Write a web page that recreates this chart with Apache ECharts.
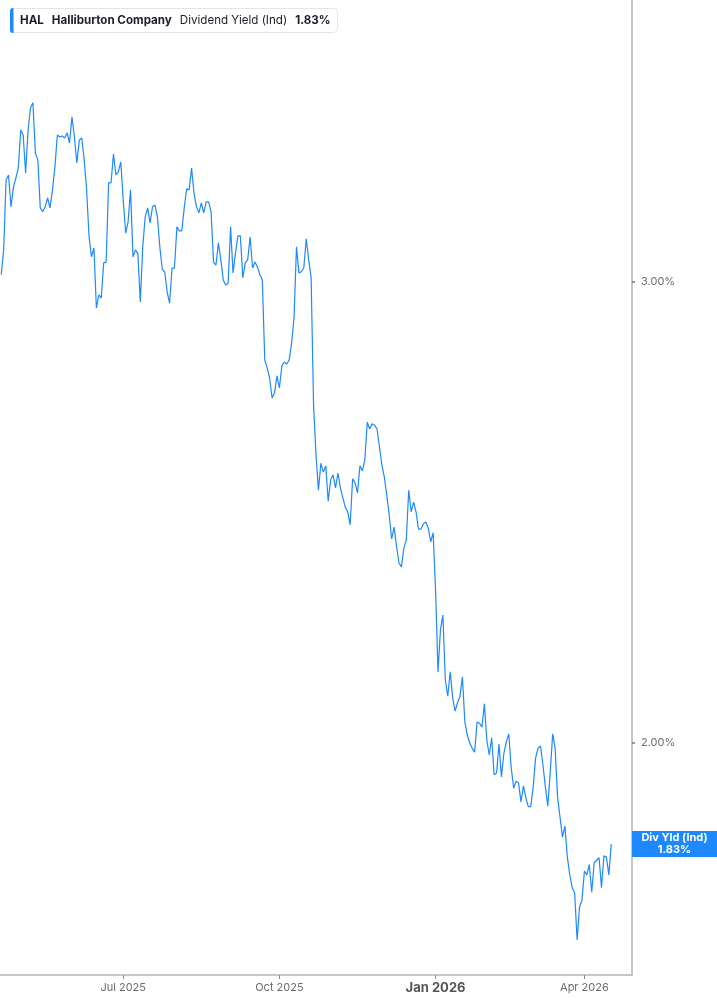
<!DOCTYPE html>
<html>
<head>
<meta charset="utf-8">
<script src="https://cdn.jsdelivr.net/npm/echarts@6/dist/echarts.min.js"></script>
<style>
  html, body { margin: 0; padding: 0; background: #fff; }
  #chart { width: 717px; height: 1005px; }
</style>
</head>
<body>
<div id="chart"></div>
<script>
// ---- Data ----
const ticker = 'HAL';
const companyName = 'Halliburton Company';
const metricName = 'Dividend Yield (Ind)';
const markerName = 'Div Yld (Ind)';

// Trading-day calendar (categories): weekdays between these dates, minus NYSE holidays
const firstDate = '2025-04-17';
const lastAxisDate = '2026-04-29';
const marketHolidays = ['2025-04-18','2025-05-26','2025-06-19','2025-07-04','2025-09-01',
  '2025-11-27','2025-12-25','2026-01-01','2026-01-19','2026-02-16','2026-04-03'];

// Dividend yield (%) per trading day, starting 2025-04-17
const yieldValues = [
  3.019, 3.086, 3.282, 3.296, 3.205, 3.261, 3.287, 3.316, 3.429, 3.414,
  3.302, 3.429, 3.496, 3.512, 3.360, 3.340, 3.202, 3.191, 3.205, 3.230,
  3.202, 3.253, 3.319, 3.414, 3.408, 3.411, 3.405, 3.420, 3.390, 3.469,
  3.408, 3.331, 3.399, 3.405, 3.340, 3.253, 3.121, 3.067, 3.091, 2.932,
  2.966, 2.958, 3.051, 3.053, 3.273, 3.273, 3.357, 3.296, 3.305, 3.334,
  3.224, 3.132, 3.163, 3.253, 3.067, 3.086, 3.075, 2.948, 3.094, 3.177,
  3.202, 3.160, 3.205, 3.210, 3.177, 3.094, 3.034, 3.027, 2.974, 2.945,
  3.037, 3.037, 3.149, 3.138, 3.138, 3.202, 3.256, 3.253, 3.316, 3.244,
  3.205, 3.188, 3.216, 3.188, 3.219, 3.219, 3.191, 3.053, 3.045, 3.105,
  3.059, 3.005, 2.992, 2.997, 3.149, 3.024, 3.077, 3.124, 3.124, 3.011,
  3.051, 3.059, 3.121, 3.037, 3.053, 3.040, 3.019, 3.005, 2.801, 2.781,
  2.757, 2.709, 2.721, 2.762, 2.733, 2.786, 2.796, 2.791, 2.801, 2.843,
  2.907, 3.094, 3.024, 3.027, 3.037, 3.116, 3.059, 3.011, 2.692, 2.577,
  2.498, 2.558, 2.538, 2.552, 2.474, 2.521, 2.532, 2.503, 2.536, 2.503,
  2.481, 2.461, 2.451, 2.423, 2.523, 2.514, 2.492, 2.552, 2.541, 2.565,
  2.652, 2.636, 2.648, 2.645, 2.636, 2.595, 2.554, 2.527, 2.487, 2.444,
  2.393, 2.418, 2.378, 2.343, 2.335, 2.374, 2.391, 2.498, 2.451, 2.472,
  2.451, 2.414, 2.414, 2.425, 2.429, 2.416, 2.387, 2.406, 2.288, 2.129,
  2.209, 2.238, 2.114, 2.084, 2.129, 2.081, 2.057, 2.072, 2.084, 2.120,
  2.037, 2.014, 2.000, 1.991, 1.984, 2.037, 2.035, 2.028, 2.070, 2.005,
  1.979, 2.009, 1.945, 1.948, 1.998, 1.941, 1.982, 2.002, 2.016, 1.957,
  1.922, 1.934, 1.931, 1.899, 1.926, 1.906, 1.891, 1.891, 1.924, 1.974,
  1.991, 1.995, 1.962, 1.924, 1.892, 1.950, 2.016, 1.991, 1.907, 1.874,
  1.841, 1.859, 1.809, 1.781, 1.761, 1.753, 1.682, 1.731, 1.742, 1.787,
  1.781, 1.797, 1.754, 1.800, 1.804, 1.808, 1.761, 1.811, 1.809, 1.781,
  1.830
];

// Y axis (log scale) range and tick labels
const yMin = 1.6308;
const yMax = 3.8444;
const yTickValues = [2, 3];

const monthNames = ['Jan','Feb','Mar','Apr','May','Jun','Jul','Aug','Sep','Oct','Nov','Dec'];

// ---- Build categories ----
function buildTradingDays(from, to, holidays) {
  const out = [];
  const hs = new Set(holidays);
  const d = new Date(from + 'T00:00:00Z');
  const end = new Date(to + 'T00:00:00Z');
  while (d <= end) {
    const wd = d.getUTCDay();
    const s = d.toISOString().slice(0, 10);
    if (wd !== 0 && wd !== 6 && !hs.has(s)) out.push(s);
    d.setUTCDate(d.getUTCDate() + 1);
  }
  return out;
}
const tradingDays = buildTradingDays(firstDate, lastAxisDate, marketHolidays);
const monthOf = s => parseInt(s.slice(5, 7), 10);
const isQuarterStart = idx => idx > 0 && monthOf(tradingDays[idx]) !== monthOf(tradingDays[idx - 1]) && (monthOf(tradingDays[idx]) - 1) % 3 === 0;

const lastValue = yieldValues[yieldValues.length - 1];
const lastText = lastValue.toFixed(2) + '%';

const FONT = 'Inter, "Noto Sans", sans-serif';
const BLUE = '#1e88ff';

const chart = echarts.init(document.getElementById('chart'), null, { renderer: 'canvas' });
chart.setOption({
  animation: false,
  backgroundColor: '#ffffff',
  textStyle: { fontFamily: FONT },
  grid: { left: 0, right: 85, top: 0, bottom: 30, containLabel: false },
  title: {
    left: 10, top: 8,
    padding: [6, 7, 6, 10],
    backgroundColor: '#ffffff',
    borderColor: '#e4e4e4', borderWidth: 1, borderRadius: 4,
    text: '{b|' + ticker + '}{g| }{b|' + companyName + '}{g| }{n|' + metricName + '}{g| }{b|' + lastText + '}',
    textStyle: {
      rich: {
        b: { fontFamily: FONT, fontSize: 11.6, fontWeight: 'bold', color: '#1b1d2a', lineHeight: 13 },
        n: { fontFamily: FONT, fontSize: 11.6, fontWeight: 'normal', color: '#1b1d2a', lineHeight: 13 },
        g: { width: 8, fontSize: 11.6, lineHeight: 13 }
      }
    }
  },
  graphic: [{
    type: 'rect', left: 10, top: 8, z: 100,
    shape: { width: 3.5, height: 25, r: [3, 0, 0, 3] },
    style: { fill: BLUE }
  }],
  xAxis: {
    type: 'category',
    data: tradingDays,
    boundaryGap: true,
    axisLine: { show: true, lineStyle: { color: '#b5b5b5', width: 1.5 } },
    axisTick: { show: true, interval: isQuarterStart, alignWithLabel: true, length: 4, lineStyle: { color: '#888', width: 1 } },
    axisLabel: {
      interval: isQuarterStart,
      margin: 7,
      color: '#6b6b6b', fontSize: 11, fontFamily: FONT,
      formatter: function (v) {
        const m = monthOf(v);
        const label = monthNames[m - 1] + ' ' + v.slice(0, 4);
        return m === 1 ? '{j|' + label + '}' : label;
      },
      rich: { j: { fontSize: 13, fontWeight: 'bold', color: '#555', fontFamily: FONT } }
    },
    splitLine: { show: false }
  },
  yAxis: {
    type: 'log',
    logBase: 10,
    position: 'right',
    min: yMin, max: yMax,
    axisLine: { show: true, lineStyle: { color: '#b5b5b5', width: 1.5 } },
    axisTick: { show: true, length: 3, customValues: yTickValues, lineStyle: { color: '#777', width: 1.5 } },
    axisLabel: {
      customValues: yTickValues,
      margin: 9, color: '#6b6b6b', fontSize: 11, fontFamily: FONT,
      formatter: v => Number(v).toFixed(2) + '%'
    },
    splitLine: { show: false },
    minorTick: { show: false }, minorSplitLine: { show: false }
  },
  series: [{
    type: 'line',
    data: yieldValues,
    showSymbol: false,
    symbol: 'none',
    lineStyle: { color: BLUE, width: 1.2 },
    itemStyle: { color: BLUE },
    markLine: {
      silent: true,
      symbol: 'none',
      animation: false,
      lineStyle: { width: 0, color: 'rgba(0,0,0,0)', type: 'solid' },
      emphasis: { disabled: true },
      data: [{ yAxis: lastValue }],
      label: {
        show: true,
        opacity: 1,
        position: 'end',
        distance: 42.5,
        align: 'center',
        verticalAlign: 'middle',
        width: 85,
        padding: [1, 0, 1, 0],
        lineHeight: 12,
        backgroundColor: BLUE,
        color: '#ffffff',
        fontFamily: FONT, fontSize: 11, fontWeight: 'bold',
        formatter: markerName + '\n' + lastText
      }
    }
  }]
});
</script>
</body>
</html>
